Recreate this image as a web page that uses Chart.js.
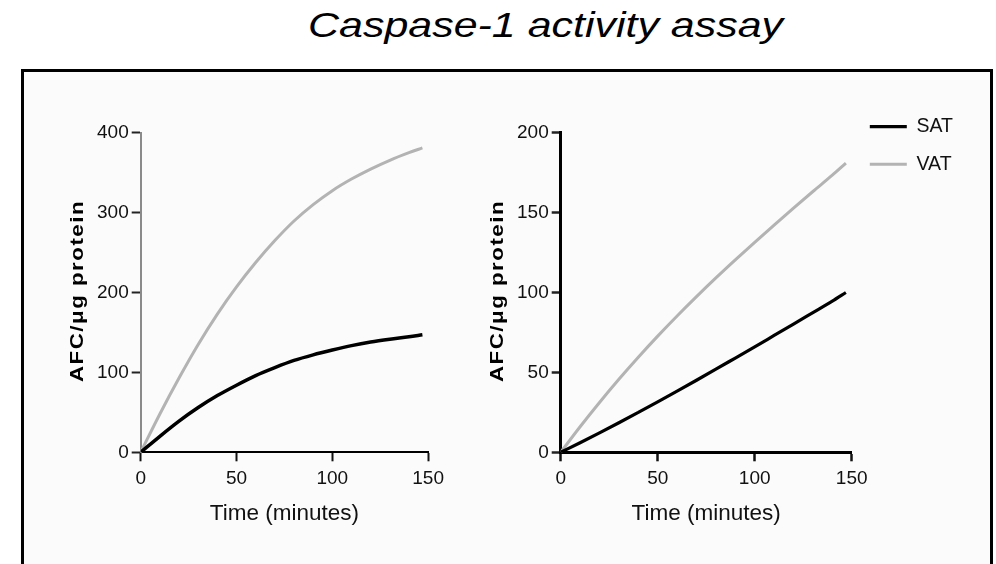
<!DOCTYPE html>
<html>
<head>
<meta charset="utf-8">
<script src="https://cdn.jsdelivr.net/npm/chart.js@4/dist/chart.umd.min.js"></script>
<style>
  html, body { margin: 0; padding: 0; background: #fff; }
  #page { position: relative; width: 996px; height: 564px; overflow: hidden; background: #fff;
          font-family: "Liberation Sans", Arial, sans-serif; }
  #title { position: absolute; left: 0; top: 7px; width: 1091px; text-align: center;
           font-size: 35px; line-height: 35px; font-style: italic; color: #000; white-space: nowrap; }
  #title span { display: inline-block; transform: scaleX(1.227); transform-origin: 50% 50%; }
  #frame { position: absolute; left: 21px; top: 69px; width: 966px; height: 520px;
           border: 3px solid #000; background: #fbfbfb; }
  canvas { position: absolute; }
  #leftPlot { left: 30px; top: 100px; }
  #rightPlot { left: 450px; top: 100px; }
</style>
</head>
<body>
<div id="page">
  <div id="title"><span>Caspase-1 activity assay</span></div>
  <div id="frame"></div>
  <canvas id="leftPlot" width="420" height="450"></canvas>
  <canvas id="rightPlot" width="540" height="450"></canvas>
</div>
<script>
// Sampling times (minutes)
const timeMin = [0, 10, 20, 30, 40, 50, 60, 70, 80, 90, 100, 110, 120, 130, 140, 147];

// Left panel: AFC per µg protein
const satLeft = [0, 20, 39, 56, 71, 84, 96, 106, 115, 122, 128, 133.5, 138, 141.5, 144.5, 147];
const vatLeft = [0, 48, 93, 135, 173, 207, 237.5, 265, 289.5, 310, 327.5, 342, 354.5, 365.5, 375, 381];

// Right panel: AFC per µg protein
const satRight = [0, 6, 12.2, 18.5, 25, 31.6, 38.3, 45.1, 52, 59, 66, 73.1, 80.2, 87.4, 94.6, 100];
const vatRight = [0, 16, 31.2, 45.7, 59.5, 72.7, 85.3, 97.4, 109.1, 120.4, 131.4, 142.2, 152.8, 163.2, 173.4, 181];

const seriesNames = ['SAT', 'VAT'];
const xTicks = [0, 50, 100, 150];
const leftYTicks = [0, 100, 200, 300, 400];
const rightYTicks = [0, 50, 100, 150, 200];
const xTitle = 'Time (minutes)';
const yTitle = 'AFC/\u03bcg protein';

const FONT = '"Liberation Sans", Arial, sans-serif';

function points(values) {
  return values.map((v, i) => ({ x: timeMin[i], y: v }));
}

function makeDatasets(sat, vat, satWidth, vatWidth) {
  return [
    { label: seriesNames[0], data: points(sat), borderColor: '#000000', backgroundColor: '#000000',
      borderWidth: satWidth, pointRadius: 0, cubicInterpolationMode: 'monotone' },
    { label: seriesNames[1], data: points(vat), borderColor: '#b3b3b3', backgroundColor: '#b3b3b3',
      borderWidth: vatWidth, pointRadius: 0, cubicInterpolationMode: 'monotone' }
  ];
}

// Rotated, bold y-axis title drawn beside the axis
const yTitlePlugin = {
  id: 'yTitle',
  afterDraw(chart, args, opts) {
    const { ctx, chartArea } = chart;
    ctx.save();
    ctx.translate(chartArea.left - 58, (chartArea.top + chartArea.bottom) / 2 - 1.5);
    ctx.rotate(-Math.PI / 2);
    ctx.scale(1.24, 1);
    ctx.font = 'bold 18px ' + FONT;
    if ('letterSpacing' in ctx) ctx.letterSpacing = '1.2px';
    ctx.fillStyle = '#000';
    ctx.textAlign = 'center';
    ctx.textBaseline = 'alphabetic';
    ctx.fillText(opts.text, 0, 0);
    ctx.restore();
  }
};

// Lift the legend so that it sits beside the upper end of the y axis
const legendLift = {
  id: 'legendLift',
  afterLayout(chart, args, opts) {
    const lg = chart.legend;
    if (lg && lg.options.display) {
      lg.top -= opts.shift;
      lg.bottom -= opts.shift;
    }
  }
};

function scalesFor(yMax, yTickValues, yBorderColor, yBorderWidth, xBorderWidth, tickW) {
  const tickFont = { family: FONT, size: 19 };
  return {
    x: {
      type: 'linear', min: 0, max: 150,
      afterBuildTicks: s => { s.ticks = xTicks.map(v => ({ value: v })); },
      afterFit: s => { s.height = 97.7; },
      ticks: { font: tickFont, color: '#111', padding: 6, maxRotation: 0, autoSkip: false },
      grid: { display: true, drawOnChartArea: false, drawTicks: true, tickLength: 9,
              tickWidth: tickW, tickColor: '#111' },
      border: { display: true, color: '#000', width: xBorderWidth },
      title: { display: true, text: xTitle, color: '#111',
               font: { family: FONT, size: 22.5 }, padding: { top: 0, bottom: 23 } }
    },
    y: {
      type: 'linear', min: 0, max: yMax,
      afterBuildTicks: s => { s.ticks = yTickValues.map(v => ({ value: v })); },
      afterFit: s => { s.width = 110.7; },
      ticks: { font: tickFont, color: '#111', padding: 3, autoSkip: false },
      grid: { display: true, drawOnChartArea: false, drawTicks: true, tickLength: 9,
              tickWidth: tickW, tickColor: '#222' },
      border: { display: true, color: yBorderColor, width: yBorderWidth },
      title: { display: false }
    }
  };
}

new Chart(document.getElementById('leftPlot'), {
  type: 'line',
  data: { datasets: makeDatasets(satLeft, vatLeft, 3.5, 3) },
  plugins: [yTitlePlugin],
  options: {
    responsive: false, animation: false, devicePixelRatio: 1, events: [],
    layout: { padding: { left: 0, top: 32.7, right: 19, bottom: 0 } },
    scales: scalesFor(400, leftYTicks, '#8a8a8a', 2, 2, 2),
    plugins: {
      legend: { display: false },
      tooltip: { enabled: false },
      yTitle: { text: yTitle }
    }
  }
});

new Chart(document.getElementById('rightPlot'), {
  type: 'line',
  data: { datasets: makeDatasets(satRight, vatRight, 3.2, 3) },
  plugins: [yTitlePlugin, legendLift],
  options: {
    responsive: false, animation: false, devicePixelRatio: 1, events: [],
    layout: { padding: { left: 0, top: 32.7, right: 32.3, bottom: 0 } },
    scales: scalesFor(200, rightYTicks, '#000', 3, 3, 2.5),
    plugins: {
      legend: {
        display: true, position: 'right', align: 'start', maxWidth: 106,
        labels: {
          usePointStyle: true, pointStyle: 'line', pointStyleWidth: 37,
          padding: 18.1, color: '#111', font: { family: FONT, size: 19.5 }
        }
      },
      legendLift: { shift: 33.9 },
      tooltip: { enabled: false },
      yTitle: { text: yTitle }
    }
  }
});
</script>
</body>
</html>
